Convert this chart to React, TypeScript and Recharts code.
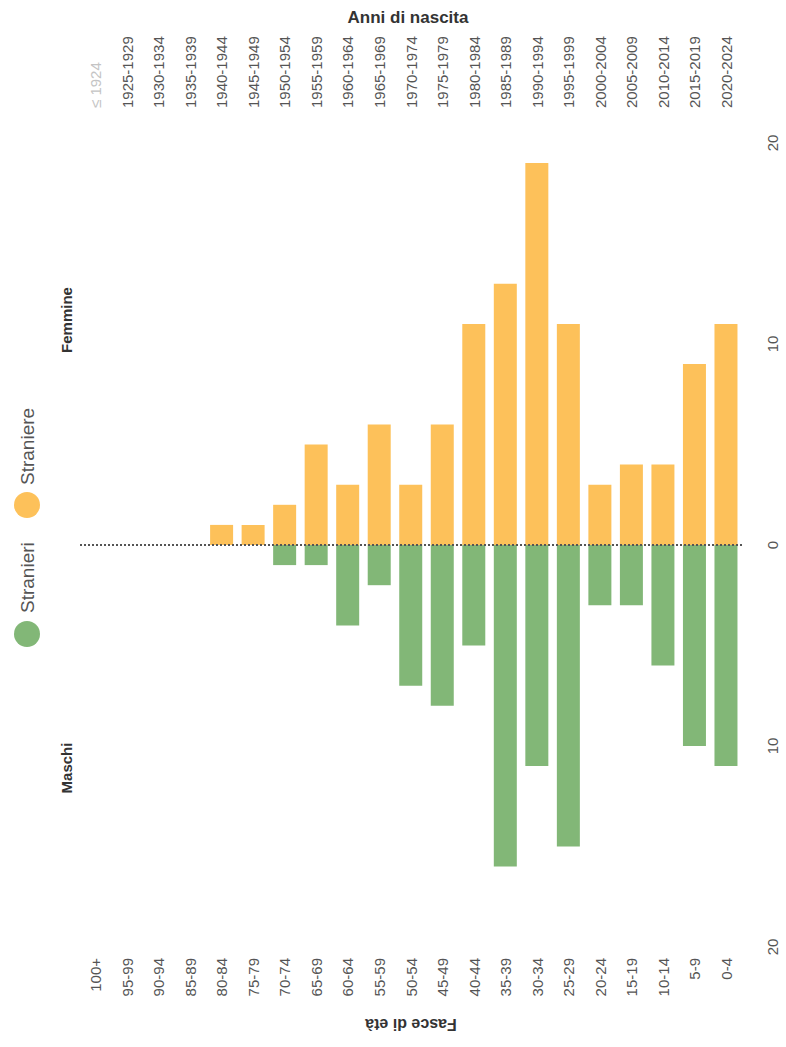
import React from 'react';
import { BarChart, Bar, XAxis, YAxis, ReferenceLine } from 'recharts';

const ages = [
  '100+', '95-99', '90-94', '85-89', '80-84', '75-79', '70-74', '65-69', '60-64', '55-59',
  '50-54', '45-49', '40-44', '35-39', '30-34', '25-29', '20-24', '15-19', '10-14', '5-9', '0-4',
];
const births = [
  '≤ 1924', '1925-1929', '1930-1934', '1935-1939', '1940-1944', '1945-1949', '1950-1954',
  '1955-1959', '1960-1964', '1965-1969', '1970-1974', '1975-1979', '1980-1984', '1985-1989',
  '1990-1994', '1995-1999', '2000-2004', '2005-2009', '2010-2014', '2015-2019', '2020-2024',
];
const femmine = [0, 0, 0, 0, 1, 1, 2, 5, 3, 6, 3, 6, 11, 13, 19, 11, 3, 4, 4, 9, 11];
const maschi = [0, 0, 0, 0, 0, 0, 1, 1, 4, 2, 7, 8, 5, 16, 11, 15, 3, 3, 6, 10, 11];
const valueTicks = [-20, -10, 0, 10, 20];

const data = ages.map((age, i) => ({
  age,
  birth: births[i],
  f: femmine[i],
  m: -maschi[i],
}));

const FONT = '"Liberation Sans", Arial, sans-serif';
const YELLOW = '#fdc15a';
const GREEN = '#82b777';

const BottomTick = (props: any) => {
  const { x, payload } = props;
  const y = 958;
  return (
    <text
      x={x}
      y={y}
      transform={`rotate(-90 ${x} ${y})`}
      textAnchor="end"
      dominantBaseline="central"
      fontSize={15}
      fontFamily={FONT}
      fill="#555"
    >
      {payload.value}
    </text>
  );
};

const TopTick = (props: any) => {
  const { x, payload } = props;
  const y = 108;
  return (
    <text
      x={x}
      y={y}
      transform={`rotate(-90 ${x} ${y})`}
      textAnchor="start"
      dominantBaseline="central"
      fontSize={15}
      fontFamily={FONT}
      fill={payload.index === 0 ? '#c4c4c4' : '#555'}
    >
      {payload.value}
    </text>
  );
};

const ValueTick = (props: any) => {
  const { y, payload } = props;
  const x = 772;
  return (
    <text
      x={x}
      y={y}
      transform={`rotate(-90 ${x} ${y})`}
      textAnchor="middle"
      dominantBaseline="central"
      fontSize={15}
      fontFamily={FONT}
      fill="#555"
    >
      {Math.abs(payload.value)}
    </text>
  );
};

export default function App() {
  return (
    <div style={{ position: 'absolute', left: 0, top: 0, width: 786, height: 1047, background: '#fff' }}>
      <BarChart
        width={786}
        height={1047}
        data={data}
        margin={{ top: 43, right: 0, bottom: 0, left: 80 }}
      >
        <XAxis
          xAxisId="top"
          orientation="top"
          dataKey="birth"
          height={100}
          interval={0}
          axisLine={false}
          tickLine={false}
          tick={<TopTick />}
        />
        <XAxis
          xAxisId="bottom"
          orientation="bottom"
          dataKey="age"
          height={100}
          interval={0}
          axisLine={false}
          tickLine={false}
          tick={<BottomTick />}
        />
        <YAxis
          orientation="right"
          type="number"
          domain={[-20, 20]}
          ticks={valueTicks}
          width={44}
          axisLine={false}
          tickLine={false}
          tick={<ValueTick />}
        />
        <Bar xAxisId="top" dataKey="f" fill={YELLOW} barSize={23} isAnimationActive={false} />
        <Bar xAxisId="bottom" dataKey="m" fill={GREEN} barSize={23} isAnimationActive={false} />
        <ReferenceLine xAxisId="bottom" y={0} stroke="#555" strokeWidth={2} strokeDasharray="2 2" />
      </BarChart>
      <svg
        width={786}
        height={1047}
        style={{ position: 'absolute', left: 0, top: 0, pointerEvents: 'none' }}
        fontFamily={FONT}
      >
        <text x={408} y={17} textAnchor="middle" dominantBaseline="central" fontSize={17} fontWeight="bold" fill="#333">
          Anni di nascita
        </text>
        <text
          x={411}
          y={1024}
          transform="rotate(180 411 1024)"
          textAnchor="middle"
          dominantBaseline="central"
          fontSize={16}
          fontWeight="bold"
          fill="#333"
        >
          Fasce di età
        </text>
        <text x={66} y={768} transform="rotate(-90 66 768)" textAnchor="middle" dominantBaseline="central" fontSize={15} fontWeight="bold" fill="#333">
          Maschi
        </text>
        <text x={66} y={320} transform="rotate(-90 66 320)" textAnchor="middle" dominantBaseline="central" fontSize={15} fontWeight="bold" fill="#333">
          Femmine
        </text>
        <circle cx={27} cy={634} r={13} fill={GREEN} />
        <text x={27} y={613} transform="rotate(-90 27 613)" textAnchor="start" dominantBaseline="central" fontSize={19} fill="#555">
          Stranieri
        </text>
        <circle cx={27} cy={505} r={13} fill={YELLOW} />
        <text x={27} y={485} transform="rotate(-90 27 485)" textAnchor="start" dominantBaseline="central" fontSize={19} fill="#555">
          Straniere
        </text>
      </svg>
    </div>
  );
}
